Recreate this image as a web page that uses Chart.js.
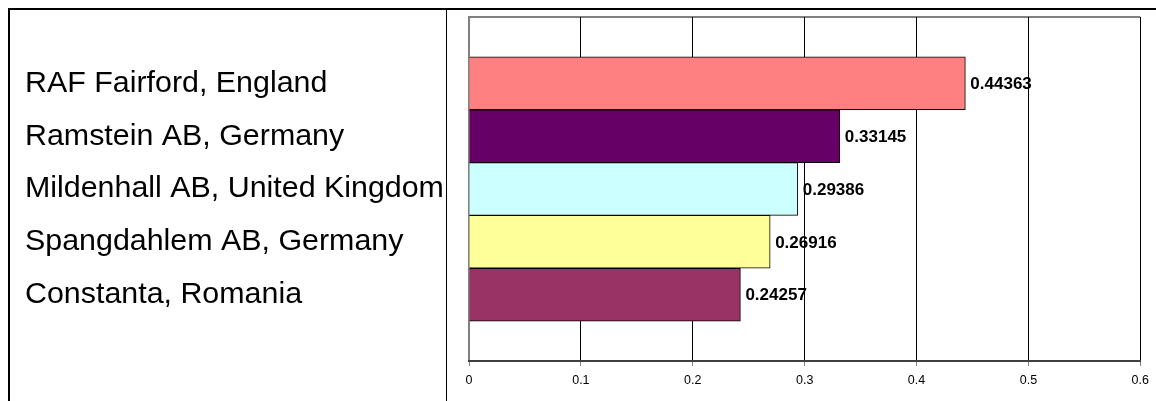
<!DOCTYPE html>
<html>
<head>
<meta charset="utf-8">
<script src="https://cdn.jsdelivr.net/npm/chart.js@4.4.1/dist/chart.umd.min.js"></script>
<style>
    html, body { margin: 0; padding: 0; background: #fff; }
    #wrap { position: relative; width: 1156px; height: 401px; overflow: hidden; }
    #frame { position: absolute; left: 8px; top: 8px; right: 0; bottom: 0; border-top: 2px solid #000; border-left: 2px solid #000; }
    #divider { position: absolute; left: 446px; top: 9px; bottom: 0; border-left: 1px solid #000; }
    #chart { position: absolute; left: 0; top: 0; }
</style>
</head>
<body>
<div id="wrap">
    <div id="frame"></div>
    <div id="divider"></div>
    <canvas id="chart" width="1156" height="401"></canvas>
</div>
<script>
const bases = ['RAF Fairford, England', 'Ramstein AB, Germany', 'Mildenhall AB, United Kingdom', 'Spangdahlem AB, Germany', 'Constanta, Romania'];
const values = [0.44363, 0.33145, 0.29386, 0.26916, 0.24257];
const barColors = ['#FF8080', '#660066', '#CCFFFF', '#FFFF99', '#993366'];
const xTicks = [0, 0.1, 0.2, 0.3, 0.4, 0.5, 0.6];

const FONT = "'Liberation Sans', Arial, sans-serif";
Chart.defaults.color = '#000';
Chart.defaults.font.family = FONT;

// value labels at the end of each bar
const valueLabels = {
    id: 'valueLabels',
    afterDatasetsDraw(chart) {
        const ctx = chart.ctx;
        const meta = chart.getDatasetMeta(0);
        ctx.save();
        ctx.font = 'bold 17px ' + FONT;
        ctx.fillStyle = '#000';
        ctx.textBaseline = 'middle';
        ctx.textAlign = 'left';
        meta.data.forEach((bar, i) => {
            ctx.fillText(String(values[i]), bar.x + 5, bar.y + 1);
        });
        ctx.restore();
    }
};

// empty space above and below the group of bars, in bar units
const pad = 0.754;
const yMin = -0.5 - pad;
const yMax = bases.length - 0.5 + pad;

new Chart(document.getElementById('chart'), {
    type: 'bar',
    data: {
        datasets: [{
            data: values.map((v, i) => ({ x: v, y: i })),
            backgroundColor: barColors,
            borderColor: '#000',
            borderWidth: 1,
            categoryPercentage: 1,
            barPercentage: 1
        }]
    },
    options: {
        indexAxis: 'y',
        responsive: false,
        animation: false,
        layout: { padding: { left: 25, top: 17, right: 13, bottom: 0 } },
        plugins: {
            legend: { display: false },
            tooltip: { enabled: false }
        },
        scales: {
            y: {
                type: 'linear',
                reverse: true,
                offset: false,
                min: yMin,
                max: yMax,
                afterBuildTicks(scale) {
                    scale.ticks = [yMin].concat(bases.map((b, i) => i), [yMax]).map(v => ({ value: v }));
                },
                afterFit(scale) {
                    scale.width = 444;
                    scale.paddingTop = 0;
                    scale.paddingBottom = 0;
                },
                ticks: {
                    autoSkip: false,
                    crossAlign: 'far',
                    padding: 0,
                    font: { size: 30.4 },
                    callback: (value) => (Number.isInteger(value) && value >= 0 && value < bases.length) ? bases[value] : ''
                },
                grid: {
                    offset: false,
                    drawTicks: false,
                    color: (c) => (c.tick && (c.tick.value === yMin || c.tick.value === yMax)) ? '#808080' : 'rgba(0,0,0,0)',
                    lineWidth: 2
                },
                border: { display: true, color: '#808080', width: 2 }
            },
            x: {
                type: 'linear',
                min: xTicks[0],
                max: xTicks[xTicks.length - 1],
                afterBuildTicks(scale) {
                    scale.ticks = xTicks.map(v => ({ value: v }));
                },
                afterFit(scale) {
                    scale.height = 40;
                },
                ticks: {
                    font: { size: 12.5 },
                    padding: 7,
                    callback: (value) => String(Math.round(value * 10) / 10)
                },
                grid: {
                    color: '#000',
                    lineWidth: 1,
                    tickLength: 5,
                    tickColor: '#808080'
                },
                border: { display: true, color: '#404040', width: 2 }
            }
        }
    },
    plugins: [valueLabels]
});
</script>
</body>
</html>
